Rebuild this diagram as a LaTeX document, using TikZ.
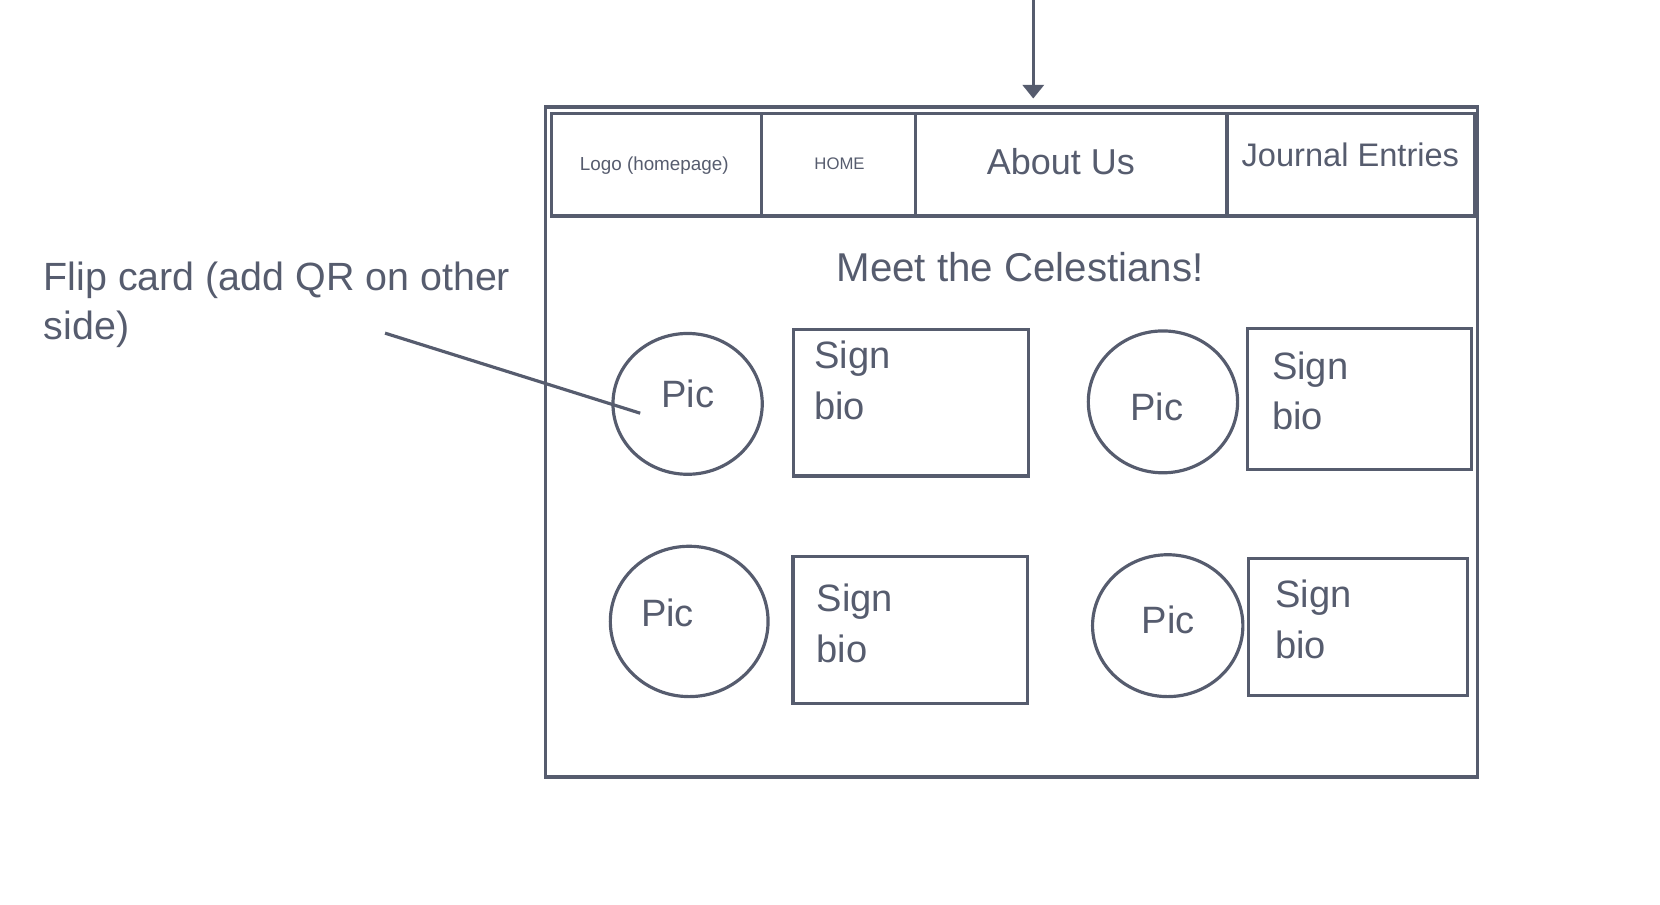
\documentclass[tikz,border=0pt]{standalone}
\usepackage{fontspec}
\setmainfont{Liberation Sans}
\usetikzlibrary{shapes.geometric,arrows.meta}
\definecolor{ink}{RGB}{86,92,110}
\begin{document}
\begin{tikzpicture}[x=0.5pt,y=-0.5pt,
  line width=1.5pt, color=ink,
  picell/.style={ellipse,draw,inner sep=0pt},
  biobox/.style={rectangle,draw,inner sep=0pt},
  cell/.style={rectangle,draw,inner sep=0pt,minimum height=48.5pt},
  lbl/.style={inner sep=0pt,anchor=base},
  lbll/.style={inner sep=0pt,anchor=base west,align=left},
  big/.style={font=\fontsize{18pt}{24pt}\selectfont},
]
\useasboundingbox (0,0) rectangle (1568,854);

% outer frame
\node[biobox, minimum width=440.25pt, minimum height=316.5pt] (frame) at (955.4,417.5) {};

% navigation cells
\node[cell, minimum width=99.25pt] (cell1) at (620.05,155.5) {};
\node[cell, minimum width=72.85pt] (cell2) at (792.15,155.5) {};
\node[cell, minimum width=147pt] (cell3) at (1012,155.5) {};
\node[cell, minimum width=117pt] (cell4) at (1276,155.5) {};

\node[lbl, font=\fontsize{8.9pt}{10pt}\selectfont] (logo) at (618,160.6) {Logo (homepage)};
\node[lbl, font=\fontsize{7.9pt}{9pt}\selectfont] (home) at (793,160) {HOME};
\node[lbl, font=\fontsize{17pt}{20pt}\selectfont] (about) at (1002,164.4) {About Us};
\node[lbl, font=\fontsize{15.4pt}{18pt}\selectfont] (journal) at (1275.5,157.5) {Journal Entries};

\node[lbl, font=\fontsize{19pt}{22pt}\selectfont] (title) at (963.5,266) {Meet the Celestians!};

% pictures
\node[picell, minimum width=70.5pt, minimum height=66.5pt] (c1) at (649.5,381.5) {};
\node[picell, minimum width=70.5pt, minimum height=67pt] (c2) at (1098.5,379.6) {};
\node[picell, minimum width=74.5pt, minimum height=71pt] (c3) at (651,587) {};
\node[picell, minimum width=71pt, minimum height=67pt] (c4) at (1103,591) {};

\node[lbll, big] (p1) at (623,385) {Pic};
\node[lbll, big] (p2) at (1066,397) {Pic};
\node[lbll, big] (p3) at (604,592) {Pic};
\node[lbll, big] (p4) at (1077,598) {Pic};

% bio boxes
\node[biobox, minimum width=110.9pt, minimum height=69.3pt] (r1) at (860.4,380.3) {};
\node[biobox, minimum width=106pt, minimum height=66.7pt] (r2) at (1284,376.7) {};
\node[biobox, minimum width=110.6pt, minimum height=69.3pt] (r3) at (859.6,595) {};
\node[biobox, minimum width=103.2pt, minimum height=64.7pt] (r4) at (1282.8,592.1) {};

% multi-line nodes: base anchor sits on the last line
\node[lbll, big] (s1) at (767.5,396) {Sign\\bio};
\node[lbll, big] (s2) at (1200,406) {Sign\\bio};
\node[lbll, big] (s3) at (770,626) {Sign\\bio};
\node[lbll, big] (s4) at (1203,622) {Sign\\bio};

% annotation
\node[lbll, font=\fontsize{18.6pt}{23.5pt}\selectfont] (flip) at (40,321) {Flip card (add QR on other\\side)};
\coordinate (flipA) at (363.7,314.7);
\coordinate (flipB) at (604.7,390.3);
\draw (flipA) -- (flipB);

% incoming arrow
\coordinate (arrowtop) at (976,0);
\draw[-{Triangle[width=10pt,length=6.5pt]}, shorten >=3.2pt] (arrowtop) -- (arrowtop |- frame.north);
\end{tikzpicture}
\end{document}
